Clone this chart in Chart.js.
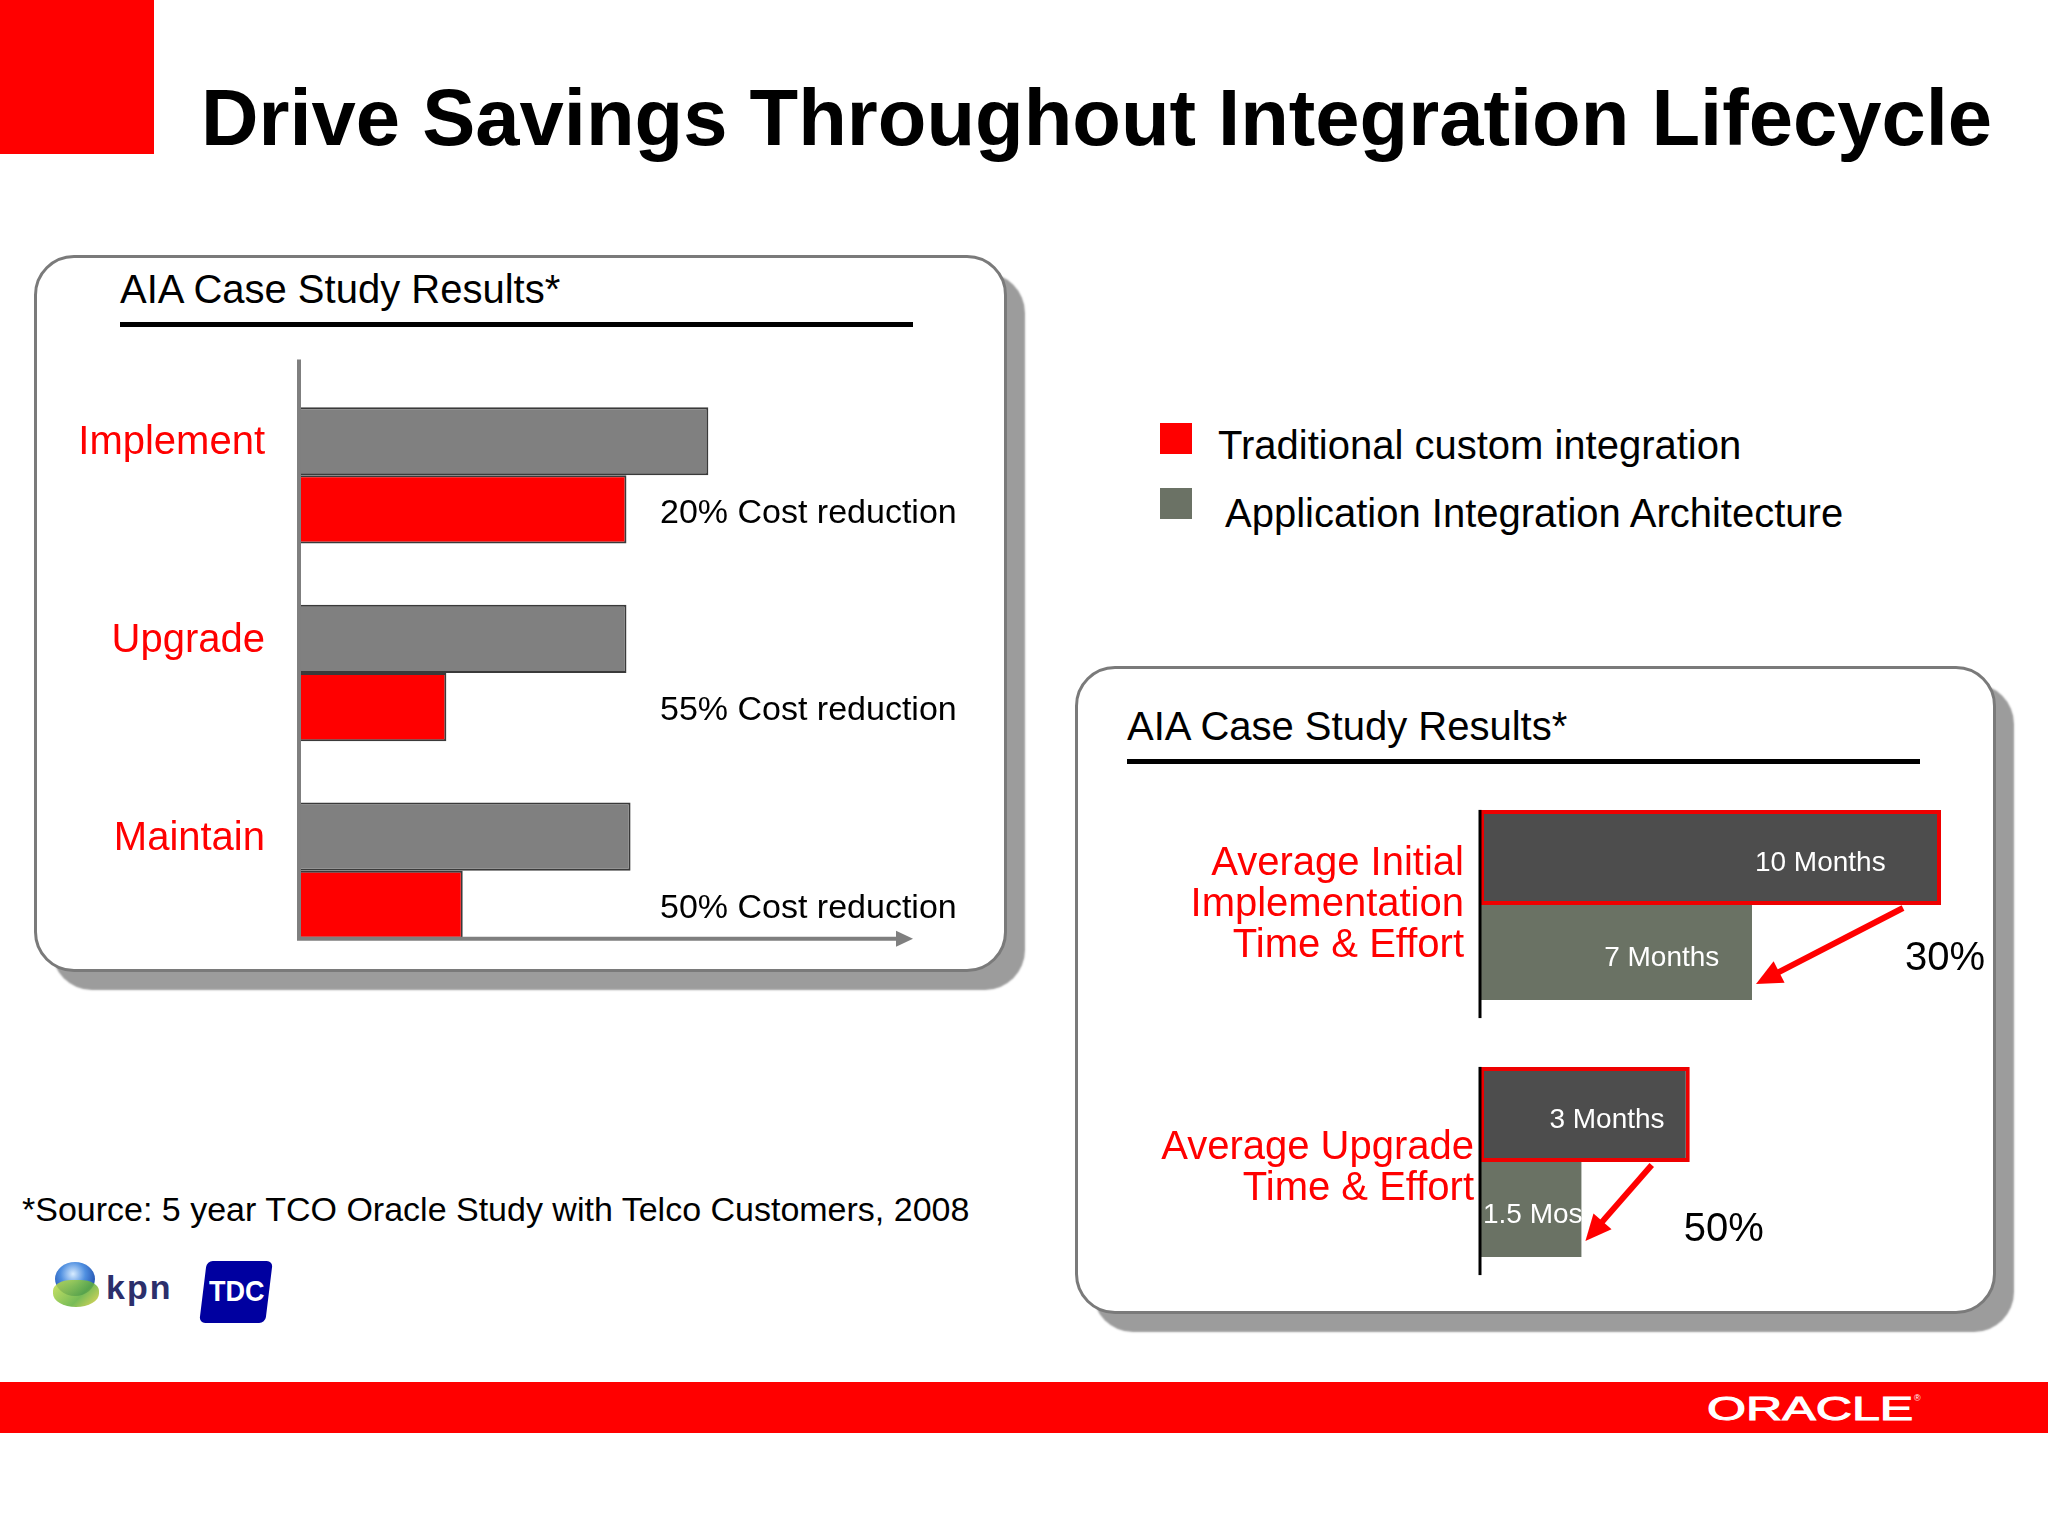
<!DOCTYPE html>
<html lang="en">
<head>
<meta charset="utf-8">
<title>Drive Savings Throughout Integration Lifecycle</title>
<script src="https://cdn.jsdelivr.net/npm/chart.js@4.4.1/dist/chart.umd.min.js"></script>
<style>
    html, body { margin: 0; padding: 0; background: #fff; }
    body {
        width: 2048px; height: 1536px; position: relative; overflow: hidden;
        font-family: "Liberation Sans", Arial, sans-serif; color: #000;
    }
    .abs { position: absolute; white-space: nowrap; }
    .panel {
        position: absolute; background: #fff; border: 3px solid #7a7a7a;
        border-radius: 40px; box-shadow: 18px 18px 2px #9c9c9c; box-sizing: border-box;
    }
    .rule { position: absolute; height: 5px; background: #000; }
    canvas { position: absolute; left: 0; top: 0; }
</style>
</head>
<body>

<div class="abs" style="left:0;top:0;width:154px;height:154px;background:#ff0000;"></div>
<div class="abs" style="left:201px;top:78px;font-size:79.6px;line-height:79px;font-weight:bold;">Drive Savings Throughout Integration Lifecycle</div>

<!-- 左パネル -->
<div class="panel" style="left:34px;top:255px;width:973px;height:717px;"></div>
<div class="abs" style="left:120px;top:269px;font-size:40px;line-height:40px;">AIA Case Study Results*</div>
<div class="rule" style="left:120px;top:322px;width:793px;"></div>

<!-- 凡例 -->
<div class="abs" style="left:1160px;top:423px;width:32px;height:31px;background:#ff0000;"></div>
<div class="abs" style="left:1218px;top:425px;font-size:40px;line-height:40px;">Traditional custom integration</div>
<div class="abs" style="left:1160px;top:488px;width:32px;height:31px;background:#6b7265;"></div>
<div class="abs" style="left:1225px;top:493px;font-size:40px;line-height:40px;">Application Integration Architecture</div>

<!-- 右パネル -->
<div class="panel" style="left:1075px;top:666px;width:921px;height:648px;"></div>
<div class="abs" style="left:1127px;top:706px;font-size:40px;line-height:40px;">AIA Case Study Results*</div>
<div class="rule" style="left:1127px;top:759px;width:793px;"></div>

<!-- 出典とロゴ -->
<div class="abs" style="left:22px;top:1192px;font-size:34px;line-height:34px;">*Source: 5 year TCO Oracle Study with Telco Customers, 2008</div>
<div class="abs" style="left:55px;top:1262px;width:40px;height:34px;border-radius:50%;background:radial-gradient(circle at 45% 35%, #d8ecff 0%, #4f8fe0 40%, #2a5cb8 70%);"></div>
<div class="abs" style="left:53px;top:1280px;width:46px;height:27px;border-radius:40% 40% 50% 50%;background:linear-gradient(135deg, #c8e04a, #5fb03a 60%, #e6d23c);opacity:0.85;"></div>
<div class="abs" style="left:106px;top:1270px;font-size:34px;line-height:34px;font-weight:bold;color:#2c2f6b;letter-spacing:2px;">kpn</div>
<div class="abs" style="left:203px;top:1261px;width:66px;height:62px;background:#0000a0;border-radius:6px;transform:skewX(-7deg);"></div>
<div class="abs" style="left:209px;top:1276px;font-size:30px;line-height:30px;font-weight:bold;color:#fff;transform:scaleX(0.9);transform-origin:left;">TDC</div>

<!-- フッター -->
<div class="abs" style="left:0;top:1382px;width:2048px;height:51px;background:#ff0000;"></div>
<div class="abs" style="left:1707px;top:1392px;font-size:33px;line-height:33px;color:#fff;-webkit-text-stroke:1px #fff;transform:scaleX(1.52);transform-origin:left;">ORACLE</div>
<div class="abs" style="left:1914px;top:1394px;font-size:9px;line-height:9px;color:#fff;">®</div>

<canvas id="leftChart" width="2048" height="1536"></canvas>
<canvas id="rightChart" width="2048" height="1536"></canvas>

<script>
// 左グラフのデータ
const leftCategories = ['Implement', 'Upgrade', 'Maintain'];
const leftGrayValues = [100, 80, 81];
const leftRedValues = [80, 36, 40];
const costReductionLabels = ['20% Cost reduction', '55% Cost reduction', '50% Cost reduction'];

// 右グラフのデータ（バーの長さは図から読み取り）
const rightCategories = [['Average Initial', 'Implementation', 'Time & Effort'], ['Average Upgrade', 'Time & Effort']];
const rightDarkValues = [10, 4.55];
const rightGreenValues = [5.9, 2.2];
const rightDarkLabels = ['10 Months', '3 Months'];
const rightGreenLabels = ['7 Months', '1.5 Mos'];
const savingLabels = ['30%', '50%'];

const FONT = '"Liberation Sans", Arial, sans-serif';

// 左グラフの軸・ラベル描画
const leftDecor = {
    id: 'leftDecor',
    afterDatasetsDraw(chart) {
        const ctx = chart.ctx;
        const area = chart.chartArea;
        const gray = chart.getDatasetMeta(0).data;
        const red = chart.getDatasetMeta(1).data;
        const last = red[red.length - 1];
        const axisY = last.y + last.height / 2;

        ctx.save();
        ctx.strokeStyle = '#7f7f7f';
        ctx.fillStyle = '#7f7f7f';
        ctx.lineWidth = 4;
        ctx.beginPath();
        ctx.moveTo(area.left, area.top - 17);
        ctx.lineTo(area.left, axisY);
        ctx.lineTo(area.right - 14, axisY);
        ctx.stroke();
        ctx.beginPath();
        ctx.moveTo(area.right, axisY);
        ctx.lineTo(area.right - 17, axisY - 8);
        ctx.lineTo(area.right - 17, axisY + 8);
        ctx.closePath();
        ctx.fill();

        ctx.textBaseline = 'middle';
        ctx.font = '40px ' + FONT;
        ctx.fillStyle = '#ff0000';
        ctx.textAlign = 'right';
        leftCategories.forEach((c, i) => ctx.fillText(c, area.left - 34, gray[i].y + 2));

        ctx.font = '34px ' + FONT;
        ctx.fillStyle = '#000';
        ctx.textAlign = 'left';
        costReductionLabels.forEach((t, i) => ctx.fillText(t, 660, red[i].y + 4));
        ctx.restore();
    }
};

// 右グラフの軸・ラベル・矢印描画
const rightDecor = {
    id: 'rightDecor',
    afterDatasetsDraw(chart) {
        const ctx = chart.ctx;
        const area = chart.chartArea;
        const dark = chart.getDatasetMeta(0).data;
        const green = chart.getDatasetMeta(1).data;

        ctx.save();
        ctx.textBaseline = 'middle';
        for (let i = 0; i < dark.length; i++) {
            const d = dark[i], g = green[i];
            const top = d.y - d.height / 2;
            const bottom = g.y + g.height / 2;

            // 縦軸
            ctx.strokeStyle = '#000';
            ctx.lineWidth = 3;
            ctx.beginPath();
            ctx.moveTo(area.left, top);
            ctx.lineTo(area.left, bottom + 18);
            ctx.stroke();

            // カテゴリ名（複数行）
            ctx.font = '40px ' + FONT;
            ctx.fillStyle = '#ff0000';
            ctx.textAlign = 'right';
            const lines = rightCategories[i];
            const mid = (top + bottom) / 2;
            lines.forEach((l, j) => {
                ctx.fillText(l, area.left - 16 + i * 10, mid + i * 6 + (j - (lines.length - 1) / 2) * 41);
            });

            // バー内の月数
            ctx.font = '28px ' + FONT;
            ctx.fillStyle = '#fff';
            [[d, rightDarkLabels[i]], [g, rightGreenLabels[i]]].forEach(([b, t]) => {
                const w = ctx.measureText(t).width;
                const xr = Math.max(b.x - 0.12 * (b.x - b.base), b.base + w + 3);
                ctx.fillText(t, xr, b.y + 6);
            });

            // 矢印
            const x0 = d.x - 38, y0 = bottom - g.height + 3;
            const x1 = g.x + 4, y1 = g.y - g.height / 2 + g.height * 0.83;
            const ang = Math.atan2(y1 - y0, x1 - x0);
            ctx.strokeStyle = '#ff0000';
            ctx.fillStyle = '#ff0000';
            ctx.lineWidth = 6;
            ctx.beginPath();
            ctx.moveTo(x0, y0);
            ctx.lineTo(x1 - 18 * Math.cos(ang), y1 - 18 * Math.sin(ang));
            ctx.stroke();
            ctx.beginPath();
            ctx.moveTo(x1, y1);
            ctx.lineTo(x1 - 26 * Math.cos(ang) + 12 * Math.sin(ang), y1 - 26 * Math.sin(ang) - 12 * Math.cos(ang));
            ctx.lineTo(x1 - 26 * Math.cos(ang) - 12 * Math.sin(ang), y1 - 26 * Math.sin(ang) + 12 * Math.cos(ang));
            ctx.closePath();
            ctx.fill();

            // 削減率
            ctx.font = '40px ' + FONT;
            ctx.fillStyle = '#000';
            ctx.textAlign = 'left';
            ctx.fillText(savingLabels[i], d.x - 36 + i * 30, g.y + 6 + i * 14);
        }
        ctx.restore();
    }
};

// 左グラフ
new Chart(document.getElementById('leftChart'), {
    type: 'bar',
    data: {
        labels: leftCategories,
        datasets: [{
            label: 'Application Integration Architecture',
            data: leftGrayValues,
            backgroundColor: '#808080',
            borderColor: '#3a3a3a',
            borderWidth: 2,
            borderSkipped: false,
        }, {
            label: 'Traditional custom integration',
            data: leftRedValues,
            backgroundColor: '#ff0000',
            borderColor: '#3a3a3a',
            borderWidth: 2,
            borderSkipped: false,
        }],
    },
    options: {
        indexAxis: 'y',
        responsive: false,
        animation: false,
        layout: { padding: { left: 299, right: 1135, top: 376.5, bottom: 566.5 } },
        datasets: { bar: { barPercentage: 1, categoryPercentage: 0.69 } },
        plugins: { legend: { display: false }, tooltip: { enabled: false } },
        scales: {
            x: { display: false, min: 0, max: 150 },
            y: { display: false },
        },
    },
    plugins: [leftDecor],
});

// 右グラフ
new Chart(document.getElementById('rightChart'), {
    type: 'bar',
    data: {
        labels: rightCategories,
        datasets: [{
            label: 'Traditional custom integration',
            data: rightDarkValues,
            backgroundColor: '#4d4d4d',
            borderColor: '#ee0000',
            borderWidth: 4,
            borderSkipped: false,
        }, {
            label: 'Application Integration Architecture',
            data: rightGreenValues,
            backgroundColor: '#6a7264',
            borderWidth: 0,
        }],
    },
    options: {
        indexAxis: 'y',
        responsive: false,
        animation: false,
        layout: { padding: { left: 1480, right: 60.9, top: 776.5, bottom: 245.5 } },
        datasets: { bar: { barPercentage: 1, categoryPercentage: 0.74 } },
        plugins: { legend: { display: false }, tooltip: { enabled: false } },
        scales: {
            x: { display: false, min: 0, max: 11 },
            y: { display: false },
        },
    },
    plugins: [rightDecor],
});
</script>
</body>
</html>
